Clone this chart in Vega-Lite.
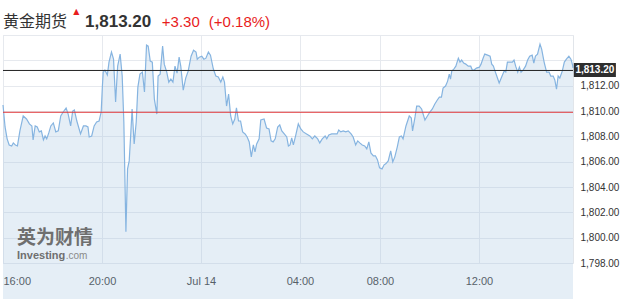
{
  "$schema": "https://vega.github.io/schema/vega-lite/v6.json",
  "width": 570,
  "height": 228,
  "autosize": {"type": "none"},
  "padding": {"left": 3, "top": 35, "right": 69, "bottom": 36},
  "background": "white",
  "config": {
    "view": {"stroke": "#e1e5ea"},
    "axis": {"gridColor": "#e6e9ee", "gridWidth": 1, "labelFont": "Liberation Sans", "labelFontSize": 11, "labelColor": "#333333", "domain": false, "ticks": false, "tickSize": 0, "title": null}
  },
  "datasets": {
    "price": [
      {"t":0,"p":1810.47},{"t":5,"p":1808.74},{"t":10,"p":1807.80},{"t":15,"p":1807.32},{"t":21,"p":1807.24},{"t":25,"p":1807.48},{"t":30,"p":1807.32},{"t":35,"p":1807.24},{"t":41,"p":1808.43},{"t":49,"p":1809.61},
      {"t":57,"p":1809.37},{"t":64,"p":1808.98},{"t":70,"p":1808.82},{"t":73,"p":1807.72},{"t":78,"p":1808.82},{"t":83,"p":1808.74},{"t":88,"p":1808.35},{"t":93,"p":1808.43},{"t":98,"p":1807.72},{"t":102,"p":1808.03},
      {"t":106,"p":1807.80},{"t":111,"p":1808.27},{"t":116,"p":1808.82},{"t":122,"p":1809.06},{"t":128,"p":1808.35},{"t":134,"p":1808.43},{"t":140,"p":1809.61},{"t":146,"p":1809.92},{"t":153,"p":1810.24},{"t":158,"p":1809.76},
      {"t":164,"p":1808.82},{"t":169,"p":1810.00},{"t":173,"p":1810.08},{"t":179,"p":1809.21},{"t":188,"p":1808.19},{"t":195,"p":1808.82},{"t":201,"p":1808.82},{"t":206,"p":1808.74},{"t":209,"p":1807.95},{"t":215,"p":1808.03},
      {"t":221,"p":1808.82},{"t":227,"p":1809.13},{"t":233,"p":1809.21},{"t":238,"p":1809.92},{"t":241,"p":1811.97},{"t":243,"p":1813.07},{"t":247,"p":1813.23},{"t":253,"p":1812.84},{"t":257,"p":1813.86},{"t":263,"p":1814.65},
      {"t":268,"p":1814.09},{"t":273,"p":1810.71},{"t":278,"p":1813.54},{"t":284,"p":1814.49},{"t":289,"p":1812.76},{"t":293,"p":1809.13},{"t":298,"p":1800.47},{"t":302,"p":1805.43},{"t":306,"p":1806.06},{"t":310,"p":1808.35},
      {"t":313,"p":1810.16},{"t":318,"p":1807.40},{"t":323,"p":1809.13},{"t":327,"p":1811.89},{"t":332,"p":1812.91},{"t":338,"p":1813.07},{"t":343,"p":1811.50},{"t":348,"p":1815.20},{"t":352,"p":1815.12},{"t":357,"p":1813.94},
      {"t":362,"p":1813.86},{"t":367,"p":1810.94},{"t":373,"p":1809.76},{"t":376,"p":1812.76},{"t":381,"p":1812.91},{"t":387,"p":1815.12},{"t":391,"p":1813.70},{"t":397,"p":1813.07},{"t":402,"p":1812.28},{"t":407,"p":1812.52},
      {"t":412,"p":1812.28},{"t":417,"p":1813.54},{"t":422,"p":1812.99},{"t":427,"p":1814.25},{"t":431,"p":1813.54},{"t":437,"p":1811.65},{"t":443,"p":1812.60},{"t":449,"p":1813.15},{"t":456,"p":1814.33},{"t":462,"p":1814.80},
      {"t":468,"p":1814.65},{"t":471,"p":1814.09},{"t":476,"p":1814.25},{"t":482,"p":1814.33},{"t":487,"p":1814.09},{"t":492,"p":1814.17},{"t":498,"p":1814.65},{"t":503,"p":1814.41},{"t":510,"p":1813.31},{"t":516,"p":1812.76},
      {"t":522,"p":1812.68},{"t":528,"p":1812.28},{"t":533,"p":1812.68},{"t":537,"p":1812.28},{"t":542,"p":1810.39},{"t":547,"p":1811.34},{"t":552,"p":1809.61},{"t":557,"p":1808.98},{"t":562,"p":1809.37},{"t":566,"p":1810.24},
      {"t":571,"p":1809.21},{"t":576,"p":1809.21},{"t":581,"p":1808.35},{"t":587,"p":1808.19},{"t":592,"p":1807.95},{"t":597,"p":1807.56},{"t":602,"p":1806.38},{"t":607,"p":1807.32},{"t":611,"p":1806.77},{"t":615,"p":1807.40},
      {"t":621,"p":1807.80},{"t":625,"p":1809.29},{"t":633,"p":1809.37},{"t":639,"p":1808.66},{"t":645,"p":1808.58},{"t":650,"p":1807.64},{"t":655,"p":1807.56},{"t":660,"p":1807.80},{"t":666,"p":1808.74},{"t":671,"p":1808.90},
      {"t":676,"p":1808.43},{"t":682,"p":1808.19},{"t":688,"p":1807.95},{"t":692,"p":1807.24},{"t":696,"p":1807.32},{"t":700,"p":1807.87},{"t":704,"p":1807.32},{"t":710,"p":1808.11},{"t":716,"p":1808.98},{"t":722,"p":1808.58},
      {"t":728,"p":1808.35},{"t":736,"p":1808.19},{"t":744,"p":1808.03},{"t":750,"p":1807.80},{"t":756,"p":1808.03},{"t":763,"p":1807.80},{"t":768,"p":1807.48},{"t":774,"p":1807.80},{"t":781,"p":1808.03},{"t":785,"p":1807.80},
      {"t":790,"p":1808.11},{"t":797,"p":1808.19},{"t":805,"p":1808.19},{"t":810,"p":1808.19},{"t":814,"p":1808.50},{"t":819,"p":1808.35},{"t":825,"p":1808.43},{"t":831,"p":1808.35},{"t":837,"p":1808.43},{"t":844,"p":1808.19},
      {"t":849,"p":1807.95},{"t":855,"p":1807.32},{"t":860,"p":1807.64},{"t":865,"p":1807.48},{"t":871,"p":1807.32},{"t":877,"p":1807.24},{"t":882,"p":1807.01},{"t":887,"p":1807.56},{"t":892,"p":1806.69},{"t":898,"p":1806.46},
      {"t":903,"p":1806.46},{"t":908,"p":1806.14},{"t":913,"p":1805.51},{"t":919,"p":1805.43},{"t":924,"p":1805.75},{"t":928,"p":1805.83},{"t":934,"p":1806.06},{"t":940,"p":1806.85},{"t":945,"p":1805.98},{"t":950,"p":1806.38},
      {"t":956,"p":1807.17},{"t":961,"p":1807.95},{"t":966,"p":1808.03},{"t":970,"p":1807.80},{"t":977,"p":1808.82},{"t":985,"p":1809.61},{"t":990,"p":1809.45},{"t":993,"p":1808.43},{"t":999,"p":1809.53},{"t":1003,"p":1810.39},
      {"t":1009,"p":1810.39},{"t":1015,"p":1810.16},{"t":1023,"p":1809.29},{"t":1029,"p":1809.61},{"t":1035,"p":1809.92},{"t":1041,"p":1810.16},{"t":1047,"p":1810.55},{"t":1053,"p":1810.87},{"t":1058,"p":1811.10},{"t":1063,"p":1811.10},
      {"t":1067,"p":1811.81},{"t":1073,"p":1811.97},{"t":1078,"p":1812.36},{"t":1082,"p":1812.91},{"t":1085,"p":1812.52},{"t":1088,"p":1813.15},{"t":1093,"p":1813.31},{"t":1098,"p":1813.54},{"t":1104,"p":1814.17},{"t":1108,"p":1813.86},
      {"t":1112,"p":1814.02},{"t":1117,"p":1813.78},{"t":1122,"p":1813.70},{"t":1128,"p":1813.54},{"t":1134,"p":1813.54},{"t":1138,"p":1813.23},{"t":1142,"p":1813.23},{"t":1148,"p":1813.39},{"t":1155,"p":1813.46},{"t":1159,"p":1813.70},
      {"t":1164,"p":1814.17},{"t":1168,"p":1814.49},{"t":1175,"p":1814.41},{"t":1181,"p":1814.33},{"t":1185,"p":1813.70},{"t":1189,"p":1813.54},{"t":1193,"p":1813.15},{"t":1198,"p":1812.68},{"t":1203,"p":1812.21},{"t":1209,"p":1812.68},
      {"t":1215,"p":1813.15},{"t":1219,"p":1813.07},{"t":1223,"p":1813.86},{"t":1229,"p":1813.86},{"t":1235,"p":1813.86},{"t":1239,"p":1814.02},{"t":1243,"p":1813.54},{"t":1248,"p":1813.07},{"t":1252,"p":1813.46},{"t":1256,"p":1813.07},
      {"t":1261,"p":1813.23},{"t":1267,"p":1813.54},{"t":1272,"p":1814.02},{"t":1277,"p":1814.33},{"t":1283,"p":1814.41},{"t":1287,"p":1813.78},{"t":1291,"p":1814.33},{"t":1296,"p":1814.49},{"t":1302,"p":1815.28},{"t":1306,"p":1814.88},
      {"t":1312,"p":1813.86},{"t":1318,"p":1813.07},{"t":1324,"p":1813.07},{"t":1328,"p":1812.76},{"t":1334,"p":1812.76},{"t":1338,"p":1812.44},{"t":1342,"p":1811.73},{"t":1346,"p":1812.76},{"t":1350,"p":1812.60},{"t":1356,"p":1813.15},
      {"t":1361,"p":1813.86},{"t":1366,"p":1814.09},{"t":1372,"p":1814.33},{"t":1377,"p":1814.09},{"t":1381,"p":1813.62},{"t":1382,"p":1813.40}
    ]
  },
  "encoding": {
    "x": {"field": "t", "type": "quantitative",
      "scale": {"domain": [0, 1382], "nice": false, "zero": false},
      "axis": {"orient": "bottom", "values": [0, 240, 480, 720, 914, 1154], "labelFlush": true, "labelOverlap": false, "labelPadding": 12, "grid": true,
        "labelExpr": "datum.value == 0 ? '16:00' : datum.value == 240 ? '20:00' : datum.value == 480 ? 'Jul 14' : datum.value == 720 ? '04:00' : datum.value == 914 ? '08:00' : '12:00'"}},
    "y": {"field": "p", "type": "quantitative",
      "scale": {"domain": [1798, 1816], "nice": false, "zero": false},
      "axis": {"orient": "right", "values": [1798, 1800, 1802, 1804, 1806, 1808, 1810, 1812, 1814, 1816], "labelOverlap": false, "labelPadding": 7, "labelFontSize": 10, "grid": true,
        "labelExpr": "datum.value > 1812.5 ? '' : format(datum.value, ',.2f')"}}
  },
  "layer": [
    {
      "data": {"name": "price"},
      "mark": {"type": "area", "fill": "#a9c6e0", "fillOpacity": 0.3, "line": {"color": "#86b4e0", "strokeWidth": 1.2}}
    },
    {
      "data": {"values": [{"t": 0, "p": 1809.9}, {"t": 1382, "p": 1809.9}]},
      "mark": {"type": "line", "color": "#e2393b", "strokeWidth": 1}
    },
    {
      "data": {"values": [{"t": 0, "p": 1813.2}, {"t": 1382, "p": 1813.2}]},
      "mark": {"type": "line", "color": "#222222", "strokeWidth": 1}
    },
    {
      "data": {"values": [{"t": 1384, "t2": 1486, "p": 1813.79, "p2": 1812.68}]},
      "mark": {"type": "rect", "color": "#2e2e2e"},
      "encoding": {"x2": {"field": "t2"}, "y2": {"field": "p2"}}
    },
    {
      "data": {"values": [{"t": 1435, "p": 1813.22, "label": "1,813.20"}]},
      "mark": {"type": "text", "color": "white", "font": "Liberation Sans", "fontSize": 10, "fontWeight": "bold", "align": "center", "baseline": "middle"},
      "encoding": {"text": {"field": "label"}}
    },
    {
      "data": {"values": [{"t": 0, "p": 1816.61, "label": "黄金期货"}]},
      "mark": {"type": "text", "color": "#333333", "font": "Noto Sans CJK SC", "fontSize": 16, "align": "left", "baseline": "alphabetic"},
      "encoding": {"text": {"field": "label"}}
    },
    {
      "data": {"values": [{"t": 178, "p": 1817.82, "label": "▲"}]},
      "mark": {"type": "text", "color": "#e81c1c", "font": "DejaVu Sans", "fontSize": 8, "align": "center", "baseline": "middle"},
      "encoding": {"text": {"field": "label"}}
    },
    {
      "data": {"values": [{"t": 199, "p": 1816.61, "label": "1,813.20"}]},
      "mark": {"type": "text", "color": "#333333", "font": "Liberation Sans", "fontSize": 17, "fontWeight": "bold", "align": "left", "baseline": "alphabetic"},
      "encoding": {"text": {"field": "label"}}
    },
    {
      "data": {"values": [{"t": 385, "p": 1816.61, "label": "+3.30"}, {"t": 499, "p": 1816.61, "label": "(+0.18%)"}]},
      "mark": {"type": "text", "color": "#e81c1c", "font": "Liberation Sans", "fontSize": 15, "align": "left", "baseline": "alphabetic"},
      "encoding": {"text": {"field": "label"}}
    },
    {
      "data": {"values": [{"t": 34, "p": 1799.5, "label": "英为财情"}]},
      "mark": {"type": "text", "color": "#6f6f6f", "font": "Noto Sans CJK SC", "fontSize": 19, "fontWeight": "bold", "align": "left", "baseline": "alphabetic"},
      "encoding": {"text": {"field": "label"}}
    },
    {
      "data": {"values": [{"t": 34, "p": 1798.32, "label": "Investing"}]},
      "mark": {"type": "text", "color": "#6f6f6f", "font": "Liberation Sans", "fontSize": 11, "fontWeight": "bold", "align": "left", "baseline": "alphabetic"},
      "encoding": {"text": {"field": "label"}}
    },
    {
      "data": {"values": [{"t": 152, "p": 1798.32, "label": ".com"}]},
      "mark": {"type": "text", "color": "#8a8a8a", "font": "Liberation Sans", "fontSize": 10, "align": "left", "baseline": "alphabetic"},
      "encoding": {"text": {"field": "label"}}
    }
  ]
}
